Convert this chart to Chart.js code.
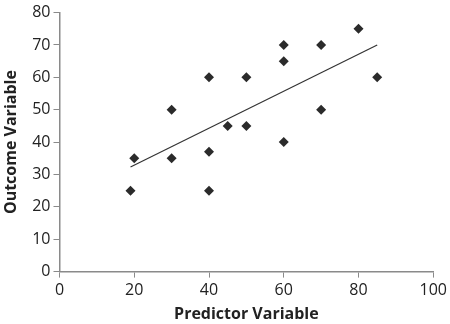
<!DOCTYPE html>
<html>
<head>
<meta charset="utf-8">
<script src="https://cdn.jsdelivr.net/npm/chart.js@4"></script>
<style>
    html, body { margin: 0; padding: 0; background: #fff; }
    #wrap { width: 450px; height: 324px; }
</style>
</head>
<body>
<div id="wrap"><canvas id="scatterChart"></canvas></div>
<script>
// values
const predictor = [19, 20, 30, 30, 40, 40, 40, 45, 50, 50, 60, 60, 60, 70, 70, 80, 85];
const outcome = [25, 35, 50, 35, 60, 37, 25, 45, 60, 45, 70, 65, 40, 70, 50, 75, 60];
// fitted line end points
const lineX = [19, 85];
const lineY = [32.3, 70];
const xTicks = [0, 20, 40, 60, 80, 100];
const yTicks = [0, 10, 20, 30, 40, 50, 60, 70, 80];

const points = predictor.map((x, i) => ({ x: x, y: outcome[i] }));
const fit = lineX.map((x, i) => ({ x: x, y: lineY[i] }));

const axisColor = "#8a8a8a";
const textColor = "#222";
const font = "'Open Sans', 'DejaVu Sans', sans-serif";

const ctx = document.getElementById("scatterChart");
new Chart(ctx, {
    type: "scatter",
    data: {
        datasets: [
            {
                label: "Data",
                data: points,
                pointStyle: "rectRot",
                pointRadius: 5,
                pointHoverRadius: 5,
                backgroundColor: "#2b2b2b",
                borderColor: "#2b2b2b",
                borderWidth: 0,
            },
            {
                label: "Fit",
                type: "line",
                data: fit,
                borderColor: "#333",
                borderWidth: 1.2,
                pointRadius: 0,
                fill: false,
            },
        ],
    },
    options: {
        responsive: true,
        maintainAspectRatio: false,
        animation: false,
        layout: { padding: { top: 4, right: 14, left: 2, bottom: 0 } },
        plugins: {
            legend: { display: false },
            tooltip: { enabled: false },
        },
        scales: {
            x: {
                type: "linear",
                min: 0,
                max: 100,
                afterBuildTicks: (axis) => {
                    axis.ticks = xTicks.map((v) => ({ value: v }));
                },
                grid: {
                    drawOnChartArea: false,
                    drawTicks: true,
                    tickLength: 6,
                    color: axisColor,
                },
                border: { color: axisColor, width: 1.5 },
                ticks: {
                    color: textColor,
                    font: { family: font, size: 16 },
                    padding: 3,
                    maxRotation: 0,
                },
                title: {
                    display: true,
                    text: "Predictor Variable",
                    color: textColor,
                    font: { family: font, size: 16, weight: "bold" },
                    padding: { top: 2, bottom: 0 },
                },
            },
            y: {
                type: "linear",
                min: 0,
                max: 80,
                afterBuildTicks: (axis) => {
                    axis.ticks = yTicks.map((v) => ({ value: v }));
                },
                grid: {
                    drawOnChartArea: false,
                    drawTicks: true,
                    tickLength: 6,
                    color: axisColor,
                },
                border: { color: axisColor, width: 1.5 },
                ticks: {
                    color: textColor,
                    font: { family: font, size: 16 },
                    padding: 3,
                },
                title: {
                    display: true,
                    text: "Outcome Variable",
                    color: textColor,
                    font: { family: font, size: 16, weight: "bold" },
                    padding: { top: 0, bottom: 8 },
                },
            },
        },
    },
});
</script>
</body>
</html>
